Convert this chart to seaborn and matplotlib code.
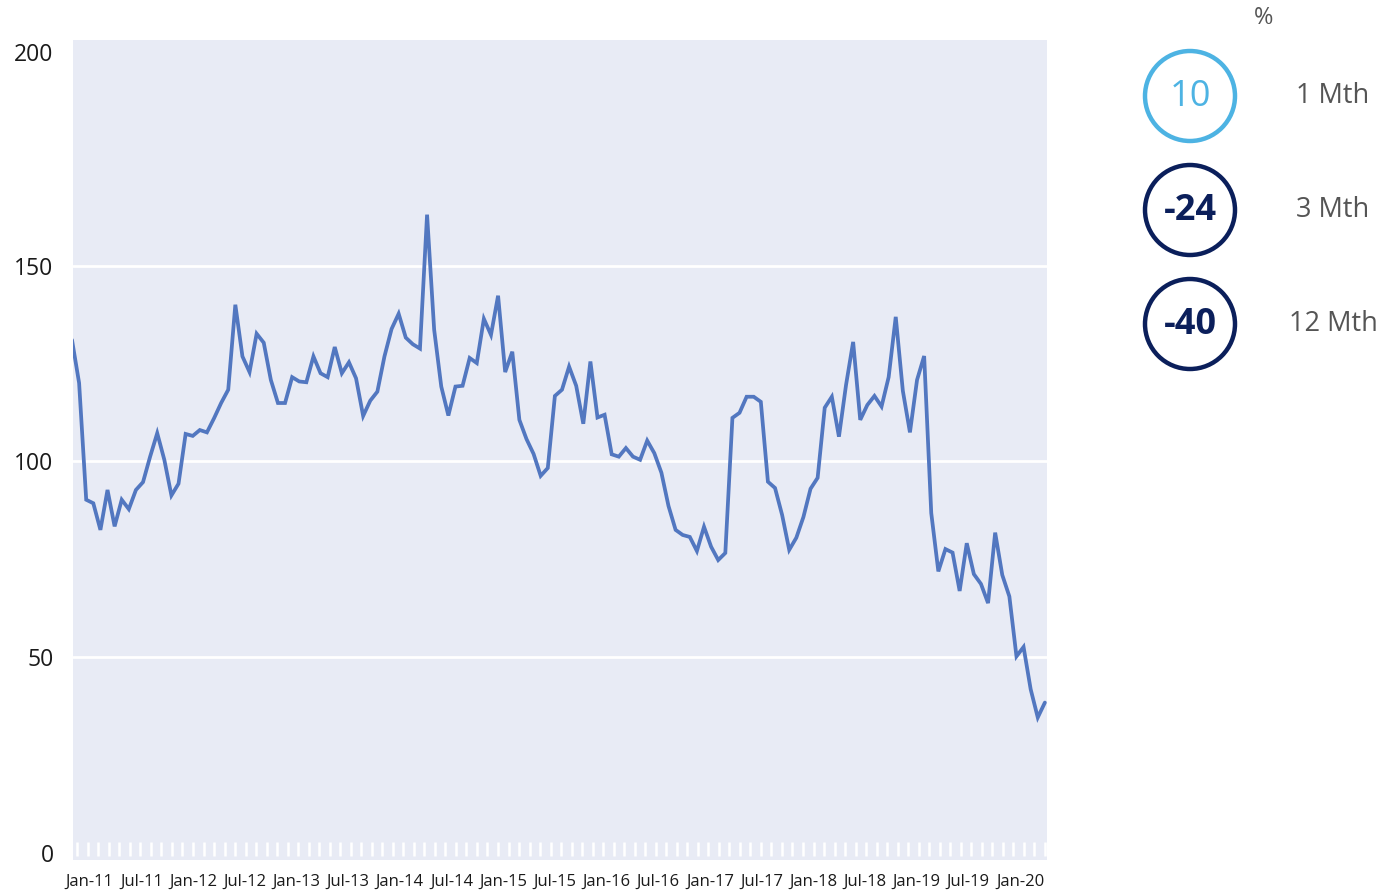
import numpy as np
import pandas as pd
import matplotlib
matplotlib.use("Agg")
import matplotlib.pyplot as plt
import seaborn as sns
from matplotlib.patches import Circle
from matplotlib.transforms import ScaledTranslation, blended_transform_factory

# ---- data ----
values = [
    131.0, 120.0, 90.2, 89.3, 82.5, 92.7, 83.4, 90.2, 87.8, 92.7,
    94.7, 101.2, 107.2, 100.4, 91.3, 94.3, 107.0, 106.5, 108.0, 107.4,
    111.0, 114.9, 118.3, 140.0, 126.8, 122.8, 132.6, 130.3, 120.8, 114.9,
    114.9, 121.5, 120.4, 120.2, 126.8, 122.5, 121.5, 129.2, 122.5, 125.3,
    121.2, 111.6, 115.5, 117.8, 126.8, 133.8, 137.7, 131.6, 129.9, 128.8,
    163.0, 133.6, 119.1, 111.7, 119.1, 119.3, 126.4, 125.1, 136.4, 132.3,
    142.3, 122.8, 128.0, 110.6, 105.7, 101.9, 96.3, 98.3, 116.7, 118.3,
    124.2, 119.3, 109.6, 125.5, 111.2, 111.9, 101.8, 101.2, 103.4, 101.2,
    100.4, 105.3, 102.1, 97.1, 88.6, 82.5, 81.2, 80.7, 77.1, 83.3,
    78.2, 74.8, 76.6, 111.1, 112.4, 116.5, 116.5, 115.2, 94.8, 93.2,
    86.3, 77.4, 80.5, 85.8, 93.0, 95.8, 113.7, 116.5, 106.3, 119.5,
    130.5, 110.6, 114.4, 116.7, 114.0, 121.5, 136.9, 118.0, 107.4, 120.8,
    126.9, 86.8, 71.9, 77.6, 76.7, 66.9, 79.1, 71.2, 68.7, 63.8,
    81.8, 71.0, 65.5, 50.2, 52.6, 41.8, 34.6, 38.4,
]
tick_labels = ["Jan-11", "Jul-11", "Jan-12", "Jul-12", "Jan-13", "Jul-13",
               "Jan-14", "Jul-14", "Jan-15", "Jul-15", "Jan-16", "Jul-16",
               "Jan-17", "Jul-17", "Jan-18", "Jul-18", "Jan-19", "Jul-19",
               "Jan-20"]
y_ticks = [0, 50, 100, 150, 200]
change_values = ["10", "-24", "-40"]
change_periods = ["1 Mth", "3 Mth", "12 Mth"]
change_colors = ["#4DB3E3", "#0B1F5B", "#0B1F5B"]
change_weights = ["normal", "bold", "bold"]

# ---- style ----
sns.set_theme(style="darkgrid")
plt.rcParams["font.family"] = ["Open Sans", "DejaVu Sans"]

W, H, DPI = 1397, 890, 100
fig = plt.figure(figsize=(W / DPI, H / DPI), dpi=DPI)
fig.patch.set_facecolor("white")
ax = fig.add_axes([73 / W, 30 / H, 974 / W, 820 / H])

n = len(values)
df = pd.DataFrame({"idx": np.arange(n), "value": values})
sns.lineplot(data=df, x="idx", y="value", ax=ax, color="#5277C0",
             linewidth=2.7, solid_joinstyle="miter")

ax.set_facecolor("#E8EBF5")
ax.set_xlim(0.14, n - 1 + 0.3)
ax.set_ylim(-1.8, 207.6)
ax.set_xlabel("")
ax.set_ylabel("")
for s in ax.spines.values():
    s.set_visible(False)

# x ticks (categorical-style labels spread across the axis)
ax.set_xticks(np.linspace(2.5, 133.5, len(tick_labels)))
ax.set_xticklabels(tick_labels, fontsize=12, color="#1a1a1a")
ax.tick_params(axis="x", length=0, pad=10)
ax.xaxis.grid(False)

ax.set_yticks(y_ticks)
ax.set_yticklabels([str(v) for v in y_ticks], fontsize=16.5, color="#1a1a1a")
ax.tick_params(axis="y", length=0, pad=14)
ax.yaxis.grid(True, color="white", linewidth=2)
yt = ax.yaxis.get_major_ticks()
yt[0].gridline.set_visible(False)
yt[-1].gridline.set_visible(False)
lab = yt[-1].label1
lab.set_transform(lab.get_transform() + ScaledTranslation(0, 18 / DPI, fig.dpi_scale_trans))

# small white tick marks along the bottom
trans = blended_transform_factory(ax.transData, ax.transAxes)
rug_x = np.linspace(0.75, 137.0, 93)
ax.vlines(rug_x, 0.005, 0.022, transform=trans, color="white", linewidth=1.8)

# ---- right-hand change panel ----
fig.text(1264 / W, 1 - 18 / H, "%", fontsize=17, color="#555555",
         ha="center", va="center")
centers_y = [96, 210, 324]
for val, per, col, wt, cy in zip(change_values, change_periods, change_colors,
                                 change_weights, centers_y):
    circ = Circle((1190 / DPI, (H - cy) / DPI), 45 / DPI,
                  transform=fig.dpi_scale_trans, fill=False,
                  edgecolor=col, linewidth=3.2)
    fig.add_artist(circ)
    fig.text(1190 / W, 1 - (cy + 1) / H, val, fontsize=26, color=col,
             fontweight=wt, ha="center", va="center")
    fig.text(1333 / W, 1 - cy / H, per, fontsize=19.5, color="#555555",
             ha="center", va="center")

fig.savefig("out.png", dpi=DPI, facecolor="white")
